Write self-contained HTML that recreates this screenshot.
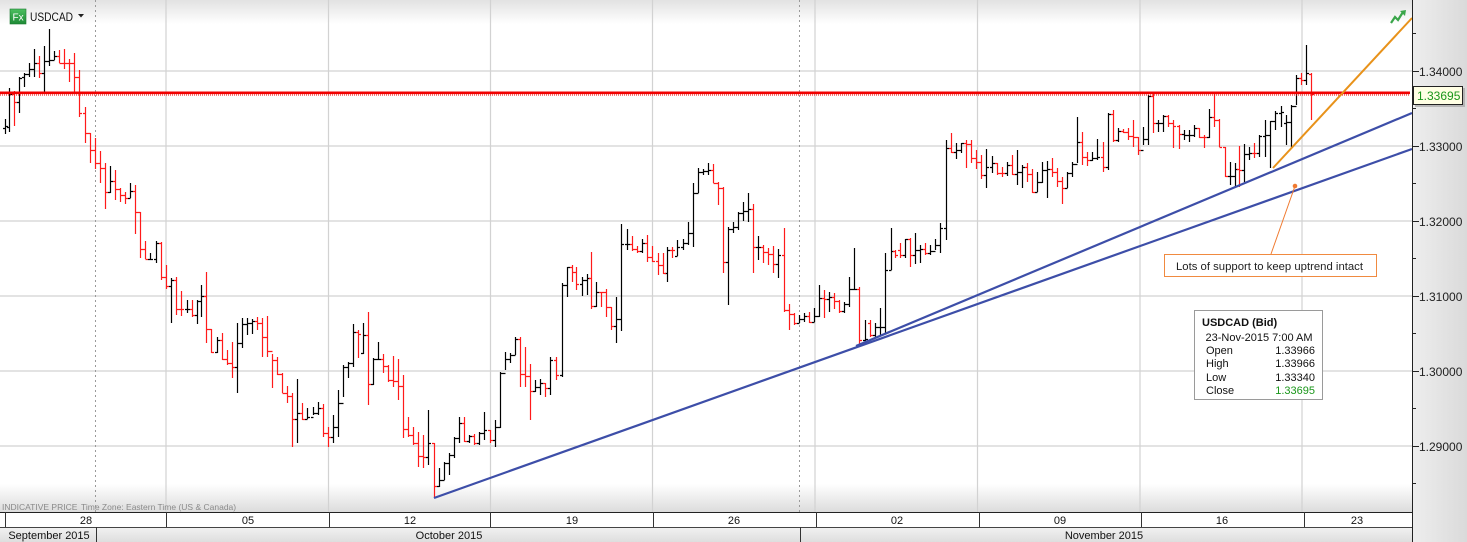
<!DOCTYPE html>
<html><head><meta charset="utf-8"><style>
html,body{margin:0;padding:0;background:#fff;}
svg{display:block;font-family:"Liberation Sans",Arial,sans-serif;}
</style></head><body>
<svg id="c" width="1467" height="542" viewBox="0 0 1467 542" xmlns="http://www.w3.org/2000/svg">
<defs>
<linearGradient id="gt" x1="0" y1="0" x2="0" y2="1"><stop offset="0" stop-color="#e2e2e2"/><stop offset="1" stop-color="#ffffff"/></linearGradient>
<linearGradient id="gb" x1="0" y1="0" x2="0" y2="1"><stop offset="0" stop-color="#ffffff"/><stop offset="1" stop-color="#dcdcdc"/></linearGradient>
<linearGradient id="gr" x1="0" y1="0" x2="1" y2="0"><stop offset="0" stop-color="#eeeeee"/><stop offset="1" stop-color="#dadada"/></linearGradient>
<linearGradient id="gm" x1="0" y1="0" x2="0" y2="1"><stop offset="0" stop-color="#f2f2f2"/><stop offset="1" stop-color="#dedede"/></linearGradient>
<linearGradient id="gfx" x1="0" y1="0" x2="0" y2="1"><stop offset="0" stop-color="#4cbf60"/><stop offset="1" stop-color="#1e8a36"/></linearGradient>
</defs>
<rect x="0" y="0" width="1412" height="512" fill="#fff"/>
<rect x="0" y="0" width="1412" height="24" fill="url(#gt)"/>
<rect x="0" y="484" width="1412" height="28" fill="url(#gb)"/>
<rect x="1412" y="0" width="55" height="542" fill="url(#gr)"/>
<g stroke="#d2d2d2" stroke-width="1.2">
<line x1="0" y1="71" x2="1412" y2="71"/>
<line x1="0" y1="146" x2="1412" y2="146"/>
<line x1="0" y1="221" x2="1412" y2="221"/>
<line x1="0" y1="296" x2="1412" y2="296"/>
<line x1="0" y1="371" x2="1412" y2="371"/>
<line x1="0" y1="446" x2="1412" y2="446"/>
<line x1="166" y1="0" x2="166" y2="512"/>
<line x1="328.5" y1="0" x2="328.5" y2="512"/>
<line x1="490.5" y1="0" x2="490.5" y2="512"/>
<line x1="652.5" y1="0" x2="652.5" y2="512"/>
<line x1="815" y1="0" x2="815" y2="512"/>
<line x1="977.5" y1="0" x2="977.5" y2="512"/>
<line x1="1140" y1="0" x2="1140" y2="512"/>
<line x1="1302" y1="0" x2="1302" y2="512"/>
</g>
<g stroke="#9a9a9a" stroke-width="1" stroke-dasharray="2,3">
<line x1="95.5" y1="0" x2="95.5" y2="512"/>
<line x1="799.5" y1="0" x2="799.5" y2="512"/>
</g>
<path id="pk" fill="none" stroke="#000" stroke-width="1.2" d=""/>
<path id="pr" fill="none" stroke="#ff1a1a" stroke-width="1.2" d=""/>
<rect x="0" y="91.5" width="1410" height="2.6" fill="#f00000"/>
<line x1="0" y1="95" x2="1410" y2="95" stroke="#f00000" stroke-width="1" stroke-dasharray="1,1"/>
<line x1="434" y1="498" x2="1412" y2="149" stroke="#3d4ea8" stroke-width="2.2"/>
<line x1="856" y1="346" x2="1412" y2="113" stroke="#3d4ea8" stroke-width="2.2"/>
<line x1="1273" y1="168" x2="1412" y2="18" stroke="#e8921a" stroke-width="2"/>
<line x1="1295" y1="186" x2="1271" y2="254" stroke="#f07a30" stroke-width="1"/>
<circle cx="1295" cy="186" r="2.3" fill="#f07a30"/>
<rect x="1164.5" y="254.5" width="212" height="22" fill="#fff" stroke="#f08a40" stroke-width="1"/>
<text x="1176" y="270" font-size="11" fill="#222" textLength="187" lengthAdjust="spacingAndGlyphs">Lots of support to keep uptrend intact</text>
<rect x="1194.5" y="310.5" width="128" height="89" fill="#fff" stroke="#9a9a9a" stroke-width="1"/>
<g font-size="11" fill="#111">
<text x="1202" y="326" font-weight="bold">USDCAD (Bid)</text>
<text x="1205.5" y="341">23-Nov-2015 7:00 AM</text>
<text x="1206" y="354">Open</text>
<text x="1206" y="367">High</text>
<text x="1206" y="381">Low</text>
<text x="1206" y="394">Close</text>
<text x="1315" y="354" text-anchor="end">1.33966</text>
<text x="1315" y="367" text-anchor="end">1.33966</text>
<text x="1315" y="381" text-anchor="end">1.33340</text>
<text x="1315" y="394" text-anchor="end" fill="#1a961a">1.33695</text>
</g>
<rect x="10" y="9" width="16" height="15" fill="url(#gfx)" stroke="#1c7a30" stroke-width="0.6"/>
<text x="12.5" y="20.5" font-size="10" fill="#fff">Fx</text>
<text x="30" y="21" font-size="11.5" fill="#111" textLength="43" lengthAdjust="spacingAndGlyphs">USDCAD</text>
<polygon points="78,14 84,14 81,17.5" fill="#222"/>
<polyline points="1391,23 1395,17 1398,20 1403,12" fill="none" stroke="#3aa64a" stroke-width="2.2"/>
<polygon points="1400,11 1406,10 1405,16" fill="#3aa64a"/>
<text x="2" y="510" font-size="8.5" fill="#8a8a8a">INDICATIVE PRICE</text>
<text x="81" y="510" font-size="8.5" fill="#8a8a8a">Time Zone: Eastern Time (US &amp; Canada)</text>
<line x1="1412.5" y1="0" x2="1412.5" y2="542" stroke="#222" stroke-width="1"/>
<g stroke="#222" stroke-width="1">
<line x1="1412" y1="71.5" x2="1419" y2="71.5"/>
<line x1="1412" y1="146.5" x2="1419" y2="146.5"/>
<line x1="1412" y1="221.5" x2="1419" y2="221.5"/>
<line x1="1412" y1="296.5" x2="1419" y2="296.5"/>
<line x1="1412" y1="371.5" x2="1419" y2="371.5"/>
<line x1="1412" y1="446.5" x2="1419" y2="446.5"/>
<line x1="1412" y1="33.5" x2="1416" y2="33.5"/>
<line x1="1412" y1="108.5" x2="1416" y2="108.5"/>
<line x1="1412" y1="183.5" x2="1416" y2="183.5"/>
<line x1="1412" y1="258.5" x2="1416" y2="258.5"/>
<line x1="1412" y1="333.5" x2="1416" y2="333.5"/>
<line x1="1412" y1="408.5" x2="1416" y2="408.5"/>
<line x1="1412" y1="483.5" x2="1416" y2="483.5"/>
</g>
<g font-size="12" fill="#222">
<text x="1419" y="76">1.34000</text>
<text x="1419" y="151">1.33000</text>
<text x="1419" y="226">1.32000</text>
<text x="1419" y="301">1.31000</text>
<text x="1419" y="376">1.30000</text>
<text x="1419" y="451">1.29000</text>
</g>
<rect x="1415" y="88" width="50" height="19" fill="#9a9a9a" opacity="0.6"/>
<rect x="1413.5" y="86.5" width="49" height="18" fill="#ffffe4" stroke="#222" stroke-width="1"/>
<text x="1417" y="100" font-size="12" fill="#1a961a">1.33695</text>
<rect x="0" y="512" width="1412" height="15" fill="#fff"/>
<rect x="0" y="527" width="1412" height="15" fill="url(#gm)"/>
<line x1="0" y1="512.5" x2="1412" y2="512.5" stroke="#222" stroke-width="1"/>
<line x1="0" y1="527.5" x2="1412" y2="527.5" stroke="#444" stroke-width="1"/>
<g stroke="#333" stroke-width="1">
<line x1="5.5" y1="512" x2="5.5" y2="527"/>
<line x1="166.5" y1="512" x2="166.5" y2="527"/>
<line x1="329.5" y1="512" x2="329.5" y2="527"/>
<line x1="490.5" y1="512" x2="490.5" y2="527"/>
<line x1="653.5" y1="512" x2="653.5" y2="527"/>
<line x1="816.5" y1="512" x2="816.5" y2="527"/>
<line x1="979.5" y1="512" x2="979.5" y2="527"/>
<line x1="1141.5" y1="512" x2="1141.5" y2="527"/>
<line x1="1304.5" y1="512" x2="1304.5" y2="527"/>
<line x1="96.5" y1="527" x2="96.5" y2="542"/>
<line x1="800.5" y1="527" x2="800.5" y2="542"/>
</g>
<g font-size="11" fill="#111" text-anchor="middle">
<text x="86" y="524">28</text>
<text x="248" y="524">05</text>
<text x="410" y="524">12</text>
<text x="572" y="524">19</text>
<text x="734" y="524">26</text>
<text x="897" y="524">02</text>
<text x="1060" y="524">09</text>
<text x="1222" y="524">16</text>
<text x="1357" y="524">23</text>
<text x="49" y="539">September 2015</text>
<text x="449" y="539">October 2015</text>
<text x="1104" y="539">November 2015</text>
</g>
</svg>
<script>
var B=[
[5,'k',119,134,128,126],[9,'k',88,132,127,94],[14,'r',91,126,94,102],[19,'k',77,113,102,78],[24,'k',73,87,77,74],[29,'k',63,77,74,69],[34,'k',49,77,69,63],[39,'r',56,78,63,73],[44,'k',46,92,73,61],[49,'k',29,66,61,60],[54,'k',51,60,60,56],[59,'r',50,63,56,63],[64,'r',49,69,63,63],[69,'r',59,82,63,63],[74,'r',53,92,63,77],[79,'r',70,117,77,113],[85,'r',107,143,113,133],[90,'r',133,163,133,150],[95,'r',138,169,150,163],[100,'r',151,183,163,168],[105,'r',163,209,168,192],[110,'k',166,193,192,181],[115,'r',170,200,181,189],[120,'r',188,202,189,195],[125,'r',192,204,195,198],[130,'k',183,198,198,191],[135,'r',185,234,191,212],[140,'r',212,258,212,249],[145,'r',241,259,249,259],[150,'k',253,260,259,259],[156,'k',241,263,259,243],[161,'r',242,280,243,277],[166,'r',265,289,277,286],[171,'k',278,323,286,280],[176,'r',277,315,280,309],[181,'r',291,316,309,309],[187,'k',300,313,309,309],[192,'r',300,317,309,315],[197,'k',300,324,315,301],[201,'k',285,317,301,296],[206,'r',272,343,296,329],[211,'r',329,353,329,352],[217,'k',337,353,352,340],[222,'r',333,360,340,359],[227,'r',350,365,359,363],[232,'r',342,378,363,367],[237,'k',323,393,367,343],[242,'k',318,348,343,324],[247,'k',318,335,324,323],
[252,'k',319,334,323,321],[257,'r',317,330,321,323],[262,'r',318,357,323,337],[267,'r',316,357,337,351],[272,'r',354,388,351,360],[277,'r',357,375,360,374],[282,'r',373,393,374,393],[287,'r',386,403,393,396],[292,'r',393,447,396,419],[297,'k',379,443,419,413],[302,'r',403,420,413,419],[307,'k',408,419,419,417],[313,'k',407,415,417,413],[318,'k',402,415,413,408],[323,'r',404,437,408,433],[328,'r',427,447,433,437],[333,'k',415,443,437,427],[338,'k',390,437,427,403],[343,'k',365,397,403,367],[348,'k',362,378,367,363],[353,'k',324,367,363,332],[358,'r',330,358,332,334],[363,'k',323,354,353,335],[368,'r',312,405,335,384],[373,'k',358,385,384,359],[378,'k',342,360,359,359],[383,'r',354,373,359,366],[388,'r',365,382,366,380],[393,'r',356,387,380,381],[398,'r',359,400,381,386],[403,'r',375,438,386,429],[408,'r',417,437,429,435],[413,'r',427,445,435,443],[418,'r',432,467,443,456],[423,'r',435,468,456,457],[428,'k',410,465,457,443],[434,'r',443,498,443,486],[439,'k',468,487,486,480],[444,'k',462,480,480,463],[449,'k',453,475,463,455],[454,'k',437,458,455,438],[459,'k',417,443,438,423],[464,'r',417,442,423,441],[469,'k',435,443,441,436],[474,'r',434,445,436,443],[479,'k',432,445,443,433],[484,'k',412,440,433,430],[490,'r',430,443,430,440],[495,'k',420,447,440,427],[500,'k',372,428,427,373],[505,'k',352,370,373,359],[510,'k',353,363,359,355],[515,'k',337,355,355,339],[520,'r',337,387,339,374],[525,'r',347,387,374,376],[530,'r',364,420,376,391],[535,'k',380,392,391,387],[540,'k',379,395,387,383],[545,'r',383,397,383,388],[550,'k',357,395,388,360],[556,'r',357,380,360,375],[562,'k',283,377,375,285],[567,'k',267,297,285,267],
[572,'r',265,282,267,272],[576,'r',267,290,272,284],[582,'k',277,296,284,280],[587,'k',274,295,280,278],[591,'r',252,309,278,306],[596,'k',282,307,306,292],[601,'r',292,307,292,292],[606,'r',289,317,292,307],[611,'r',307,330,307,326],[616,'k',297,343,326,319],[621,'k',224,331,319,244],[627,'k',229,250,244,244],[632,'r',236,251,244,249],[637,'r',246,253,249,251],[642,'k',239,253,251,243],[647,'r',235,262,243,257],[652,'r',246,262,257,261],[658,'r',253,275,261,265],[663,'r',253,274,265,273],[667,'k',247,282,273,250],[672,'r',247,258,250,250],[677,'k',240,256,256,247],[683,'k',239,250,247,243],[688,'k',222,245,243,233],[693,'k',183,247,233,193],[698,'k',168,193,193,172],[703,'k',169,175,172,171],[708,'k',163,175,171,170],[713,'r',164,183,170,183],[718,'r',182,205,183,188],[723,'r',187,273,188,262],[728,'k',227,305,262,229],[733,'k',222,233,229,227],[738,'k',212,230,227,213],[743,'k',202,221,213,211],[748,'k',193,222,211,209],[753,'r',204,273,209,247],[758,'k',236,260,247,247],[763,'r',245,263,247,252],[768,'r',248,265,252,254],[773,'r',246,273,254,264],[778,'k',249,278,264,255],[784,'r',228,312,255,310],[789,'r',304,330,310,314],[794,'r',313,325,314,323],[799,'k',315,323,323,319],[804,'k',313,322,319,316],[809,'r',312,323,316,322],[814,'k',308,322,322,316],[819,'k',285,317,316,298],[824,'r',290,318,298,299],[829,'k',292,312,299,297],[834,'r',293,309,297,301],[839,'r',300,313,301,311],[844,'k',302,313,311,304],[849,'k',277,307,304,289],
[854,'k',248,290,289,289],[859,'r',287,345,289,340],[865,'k',320,343,340,339],[870,'r',320,337,323,335],[875,'k',323,337,335,327],[880,'k',308,335,327,327],[885,'k',253,333,327,270],[891,'k',228,270,270,251],[895,'r',250,258,251,255],[900,'r',243,258,250,255],[905,'k',239,258,255,239],[910,'r',238,267,239,255],[915,'k',233,264,255,250],[920,'k',245,263,250,249],[925,'r',243,255,249,253],[930,'k',245,255,253,251],[935,'k',239,250,251,245],[940,'k',223,253,245,228],[946,'k',140,240,228,148],[951,'r',133,153,148,152],[956,'k',143,159,152,150],[961,'k',143,153,150,143],[966,'r',140,168,143,144],[971,'r',140,163,144,158],[976,'r',150,169,158,162],[981,'r',155,179,162,175],[986,'k',149,188,175,167],[992,'k',156,173,167,163],[997,'r',163,175,163,173],[1002,'r',167,177,173,173],[1007,'k',162,176,173,165],[1012,'r',155,175,165,174],[1017,'k',150,185,174,172],[1022,'k',165,188,172,167],[1027,'r',163,182,167,174],[1032,'r',169,193,174,192],[1037,'k',172,192,192,182],[1042,'k',162,183,182,170],[1047,'k',161,198,170,169],[1052,'r',158,177,169,172],[1057,'r',168,187,172,181],[1062,'r',177,204,181,188],[1067,'k',172,188,188,173],[1072,'k',162,177,173,164],[1077,'k',117,163,164,142],[1082,'r',132,165,142,157],[1087,'r',152,166,157,160],[1092,'k',152,161,160,158],[1097,'k',139,160,158,157],[1103,'r',142,172,157,167],[1108,'k',113,170,167,114],[1113,'r',110,142,114,140],[1118,'k',128,142,140,131],
[1123,'r',129,133,131,132],[1128,'r',128,140,132,136],[1133,'r',120,147,136,137],[1138,'r',137,155,137,150],[1143,'k',127,145,150,139],[1148,'k',95,145,139,96],[1153,'r',93,133,96,123],[1158,'k',120,132,123,123],[1163,'k',115,132,123,116],[1168,'r',115,127,116,123],[1173,'r',120,148,123,126],[1179,'r',125,149,126,134],[1184,'k',130,140,134,135],[1189,'k',130,142,135,135],[1194,'k',125,137,135,128],[1199,'r',128,138,128,137],[1204,'r',135,148,137,137],[1209,'k',109,138,137,117],[1214,'r',93,127,117,120],[1219,'r',119,147,120,147],[1225,'r',147,177,147,176],[1230,'k',162,185,176,176],[1235,'k',163,187,176,169],[1239,'r',146,187,169,170],[1244,'k',144,182,170,154],[1249,'k',147,160,154,153],[1254,'r',143,158,153,153],[1259,'k',135,157,153,136],[1265,'k',120,157,136,135],[1270,'k',121,168,135,121],[1275,'k',111,130,121,113],[1281,'k',106,127,113,112],[1286,'k',115,145,123,122],[1291,'k',105,148,122,106],[1296,'k',75,105,106,78],[1301,'r',73,85,78,80],[1306,'k',45,85,80,73],[1311,'r',73,120,74,94]
];
var dk='',dr='';
for(var i=0;i<B.length;i++){var b=B[i],x=b[0]+.5,s='M'+x+' '+b[2]+'V'+b[3]+'M'+(x-2.5)+' '+(b[4]+.5)+'H'+x+'M'+x+' '+(b[5]+.5)+'H'+(x+2.5);if(b[1]=='k')dk+=s;else dr+=s;}
document.getElementById('pk').setAttribute('d',dk);
document.getElementById('pr').setAttribute('d',dr);
</script>
</body></html>
